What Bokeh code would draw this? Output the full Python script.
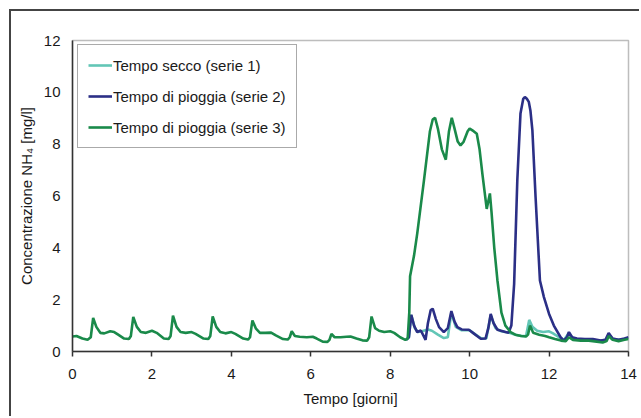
from bokeh.plotting import figure
from bokeh.models import Range1d, Legend, LegendItem, FixedTicker
from bokeh.embed import file_html
from bokeh.resources import INLINE

# ---- data ----
s3_x = [0.0, 0.1, 0.25, 0.38, 0.46, 0.52, 0.6, 0.7, 0.8, 0.95, 1.05, 1.15, 1.3, 1.42, 1.47, 1.53, 1.62, 1.72, 1.85,
        2.0, 2.12, 2.3, 2.42, 2.47, 2.53, 2.62, 2.72, 2.85, 3.0, 3.1, 3.3, 3.42, 3.47, 3.53, 3.62, 3.72, 3.85,
        4.0, 4.1, 4.3, 4.42, 4.47, 4.53, 4.62, 4.72, 4.85, 5.0, 5.12, 5.3, 5.42, 5.47, 5.52, 5.6, 5.72, 5.9,
        6.05, 6.15, 6.3, 6.42, 6.47, 6.52, 6.6, 6.75, 6.9, 7.0, 7.15, 7.3, 7.42, 7.47, 7.53, 7.62, 7.72, 7.85,
        8.0, 8.1, 8.25, 8.38, 8.44, 8.48, 8.5, 8.6, 8.68, 8.85, 9.0, 9.07, 9.13, 9.2, 9.3, 9.4, 9.48, 9.55,
        9.62, 9.7, 9.77, 9.85, 9.95, 10.0, 10.1, 10.18, 10.25, 10.32, 10.43, 10.47, 10.51, 10.55, 10.62, 10.7,
        10.8, 10.9, 11.03, 11.15, 11.3, 11.42, 11.47, 11.52, 11.6, 11.75, 11.9, 12.0, 12.15, 12.3, 12.42, 12.5,
        12.6, 12.8, 13.0, 13.2, 13.35, 13.45, 13.5, 13.6, 13.75, 13.9, 14.0]
s3_y = [0.58, 0.6, 0.5, 0.45, 0.55, 1.3, 0.95, 0.72, 0.7, 0.78, 0.75, 0.65, 0.5, 0.48, 0.6, 1.33, 0.95, 0.75, 0.72,
        0.8, 0.72, 0.5, 0.48, 0.6, 1.38, 0.95, 0.75, 0.72, 0.75, 0.68, 0.5, 0.48, 0.6, 1.35, 0.95, 0.75, 0.7,
        0.75, 0.68, 0.5, 0.46, 0.55, 1.2, 0.88, 0.72, 0.72, 0.73, 0.62, 0.48, 0.46, 0.55, 0.78, 0.6, 0.57, 0.55,
        0.57, 0.5, 0.38, 0.37, 0.45, 0.68, 0.55, 0.55, 0.57, 0.58, 0.5, 0.43, 0.42, 0.55, 1.35, 0.9, 0.8, 0.75,
        0.78, 0.72, 0.55, 0.45, 0.5, 1.5, 2.9, 3.7, 4.55, 6.6, 8.5, 8.95, 9.02, 8.6, 7.8, 7.4, 8.5, 9.02,
        8.6, 8.1, 7.95, 8.1, 8.5, 8.6, 8.5, 8.4, 7.8, 6.86, 5.5, 5.8, 6.1, 5.4, 4.0, 2.74,
        1.5, 1.0, 0.75, 0.65, 0.6, 0.58, 0.65, 1.0, 0.72, 0.65, 0.6, 0.55, 0.48, 0.42, 0.4, 0.55,
        0.45, 0.42, 0.42, 0.38, 0.35, 0.4, 0.6, 0.45, 0.4, 0.45, 0.48]

s2_x = [8.4, 8.47, 8.53, 8.6, 8.68, 8.77, 8.84, 8.89, 8.95, 9.02, 9.07, 9.15, 9.23, 9.35, 9.45, 9.54, 9.62, 9.69,
        9.8, 9.98, 10.1, 10.28, 10.4, 10.47, 10.53, 10.6, 10.7, 10.9, 10.98, 11.05, 11.12, 11.2, 11.28, 11.35,
        11.39, 11.44, 11.49, 11.53, 11.58, 11.66, 11.77, 11.87, 12.0, 12.12, 12.29, 12.37, 12.45, 12.5, 12.58,
        12.7, 12.9, 13.1, 13.3, 13.42, 13.5, 13.6, 13.75, 13.9, 14.0]
s2_y = [0.45, 0.55, 1.42, 1.0, 0.75, 0.81, 0.6, 0.45, 1.1, 1.6, 1.65, 1.25, 0.94, 0.75, 0.9, 1.56, 1.15, 0.94,
        0.85, 0.84, 0.7, 0.49, 0.5, 0.9, 1.45, 1.1, 0.84, 0.75, 0.72, 1.0, 2.6, 6.6, 9.18, 9.75,
        9.82, 9.75, 9.63, 9.3, 8.53, 5.96, 2.74, 2.1, 1.45, 1.0, 0.55, 0.42, 0.55, 0.75, 0.55,
        0.5, 0.48, 0.48, 0.42, 0.45, 0.71, 0.5, 0.45, 0.5, 0.55]

s1_x = [8.4, 8.47, 8.53, 8.62, 8.7, 8.8, 8.95, 9.05, 9.2, 9.35, 9.45, 9.54, 9.65, 9.8, 10.0, 10.15, 10.3, 10.42,
        10.53, 10.65, 10.8, 11.0, 11.15, 11.3, 11.42, 11.5, 11.58, 11.7, 11.85, 12.0, 12.1, 12.25, 12.38, 12.5,
        12.6, 12.8, 13.0, 13.3, 13.45, 13.5, 13.6, 13.8, 14.0]
s1_y = [0.45, 0.55, 1.4, 0.9, 0.75, 0.78, 0.85, 0.8, 0.65, 0.52, 0.55, 1.5, 0.95, 0.82, 0.82, 0.65, 0.5, 0.5,
        1.4, 0.9, 0.78, 0.72, 0.65, 0.6, 0.6, 1.22, 0.95, 0.8, 0.75, 0.78, 0.7, 0.55, 0.45, 0.72,
        0.5, 0.45, 0.45, 0.42, 0.45, 0.68, 0.48, 0.45, 0.52]

names = ["Tempo secco (serie 1)", "Tempo di pioggia (serie 2)", "Tempo di pioggia (serie 3)"]
colors = ["#62c6b6", "#2b2f86", "#1a8a4a"]
x_ticks = [0, 2, 4, 6, 8, 10, 12, 14]
y_ticks = [0, 2, 4, 6, 8, 10, 12]

FONT = "Liberation Sans"

p = figure(width=630, height=407, output_backend="svg", toolbar_location=None,
           x_range=Range1d(0, 14), y_range=Range1d(0, 12),
           min_border_left=61, min_border_right=13, min_border_top=29, min_border_bottom=67)
p.margin = (9, 0, 0, 9)
p.styles = {"border-top": "2px solid #444444", "border-left": "2px solid #444444"}
p.background_fill_color = "white"
p.border_fill_color = "white"
p.outline_line_color = "#bdbdbd"
p.outline_line_width = 1.5
p.xgrid.visible = False
p.ygrid.visible = False

r1 = p.line(s1_x, s1_y, line_color=colors[0], line_width=2.6)
r2 = p.line(s2_x, s2_y, line_color=colors[1], line_width=2.6)
r3 = p.line(s3_x, s3_y, line_color=colors[2], line_width=2.6)

for ax in (p.xaxis[0], p.yaxis[0]):
    ax.axis_line_color = "#333333"
    ax.axis_line_width = 1.5
    ax.major_label_text_font = FONT
    ax.major_label_text_font_size = "15px"
    ax.major_label_text_color = "#1a1a1a"
    ax.axis_label_text_font = FONT
    ax.axis_label_text_font_size = "15px"
    ax.axis_label_text_font_style = "normal"
    ax.axis_label_text_color = "#1a1a1a"
    ax.minor_tick_line_color = None

p.xaxis.ticker = FixedTicker(ticks=x_ticks)
p.yaxis.ticker = FixedTicker(ticks=y_ticks)
p.xaxis.axis_label = "Tempo [giorni]"
p.yaxis.axis_label = "Concentrazione NH\u2084 [mg/l]"
p.xaxis.major_tick_out = 5
p.xaxis.major_tick_in = 0
p.xaxis.major_tick_line_color = "#333333"
p.xaxis.major_tick_line_width = 1.5
p.xaxis.major_label_standoff = 12
p.xaxis.axis_label_standoff = 8
p.yaxis.major_tick_out = 0
p.yaxis.major_tick_in = 0
p.yaxis.major_tick_line_color = None
p.yaxis.major_label_standoff = 12
p.yaxis.axis_label_standoff = 6

legend = Legend(items=[LegendItem(label=names[0], renderers=[r1]),
                       LegendItem(label=names[1], renderers=[r2]),
                       LegendItem(label=names[2], renderers=[r3])],
                location=(5, 203))
legend.label_text_font = FONT
legend.label_text_font_size = "15px"
legend.label_text_color = "#1a1a1a"
legend.glyph_width = 24
legend.glyph_height = 20
legend.label_height = 20
legend.label_standoff = 1
legend.spacing = 11
legend.padding = 10
legend.margin = 0
legend.border_line_color = "#555555"
legend.border_line_width = 1.2
legend.background_fill_color = "white"
legend.background_fill_alpha = 1
p.add_layout(legend, "center")

open("out.html", "w").write(file_html(p, INLINE))
